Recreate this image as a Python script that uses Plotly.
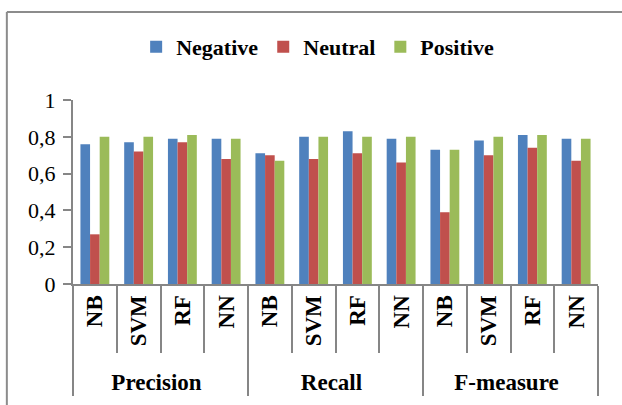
import plotly.graph_objects as go

# Classifier scores per metric and sentiment class
metrics = ["Precision", "Recall", "F-measure"]
models = ["NB", "SVM", "RF", "NN"]

negative = [0.76, 0.77, 0.79, 0.79,
            0.71, 0.80, 0.83, 0.79,
            0.73, 0.78, 0.81, 0.79]
neutral = [0.27, 0.72, 0.77, 0.68,
           0.70, 0.68, 0.71, 0.66,
           0.39, 0.70, 0.74, 0.67]
positive = [0.80, 0.80, 0.81, 0.79,
            0.67, 0.80, 0.80, 0.80,
            0.73, 0.80, 0.81, 0.79]

series_names = ["Negative", "Neutral", "Positive"]
series_colors = ["#4F81BD", "#C0504D", "#9BBB59"]

outer = [m for m in metrics for _ in models]
inner = [c for _ in metrics for c in models]

FONT = "Liberation Serif"
AXIS_GREY = "#868686"

fig = go.Figure()
for name, vals, color in zip(series_names, [negative, neutral, positive], series_colors):
    fig.add_trace(go.Bar(
        x=[outer, inner], y=vals, name=name,
        marker=dict(color=color, line=dict(width=0)),
    ))

fig.update_layout(
    width=622, height=405,
    barmode="group", bargap=0.34, bargroupgap=0,
    separators=", ",
    paper_bgcolor="white", plot_bgcolor="white",
    margin=dict(l=73, r=24, t=100, b=121, autoexpand=False),
    font=dict(family=FONT, color="black", size=22),
    showlegend=True,
    legend=dict(
        orientation="h", x=0.466, xanchor="center",
        yref="container", y=1 - 47 / 405, yanchor="middle",
        bgcolor="rgba(0,0,0,0)",
        font=dict(family=FONT, size=22, weight="bold"),
        itemwidth=30, tracegroupgap=0,
    ),
    xaxis=dict(
        type="multicategory",
        showline=True, linecolor=AXIS_GREY, linewidth=2,
        ticks="outside", tickson="boundaries", ticklen=67,
        tickcolor=AXIS_GREY, tickwidth=1.5,
        showdividers=True, dividercolor=AXIS_GREY, dividerwidth=1.5,
        tickangle=-90,
        tickfont=dict(family=FONT, size=23, weight="bold"),
        showgrid=False,
    ),
    yaxis=dict(
        range=[0, 1], dtick=0.2, tick0=0,
        showline=True, linecolor=AXIS_GREY, linewidth=2,
        ticks="outside", ticklen=8, tickcolor=AXIS_GREY, tickwidth=2,
        ticklabelstandoff=3,
        showgrid=False, zeroline=False,
        tickfont=dict(family=FONT, size=22),
    ),
)

# Outer frame of the chart area
fig.add_shape(type="line", xref="paper", yref="paper",
              x0=-0.126, x1=-0.126, y0=-1.0, y1=1.478,
              line=dict(color="#8C8C8C", width=2))
fig.add_shape(type="line", xref="paper", yref="paper",
              x0=-0.126, x1=1.1, y0=1.478, y1=1.478,
              line=dict(color="#8C8C8C", width=2))

fig.write_html("out.html")
